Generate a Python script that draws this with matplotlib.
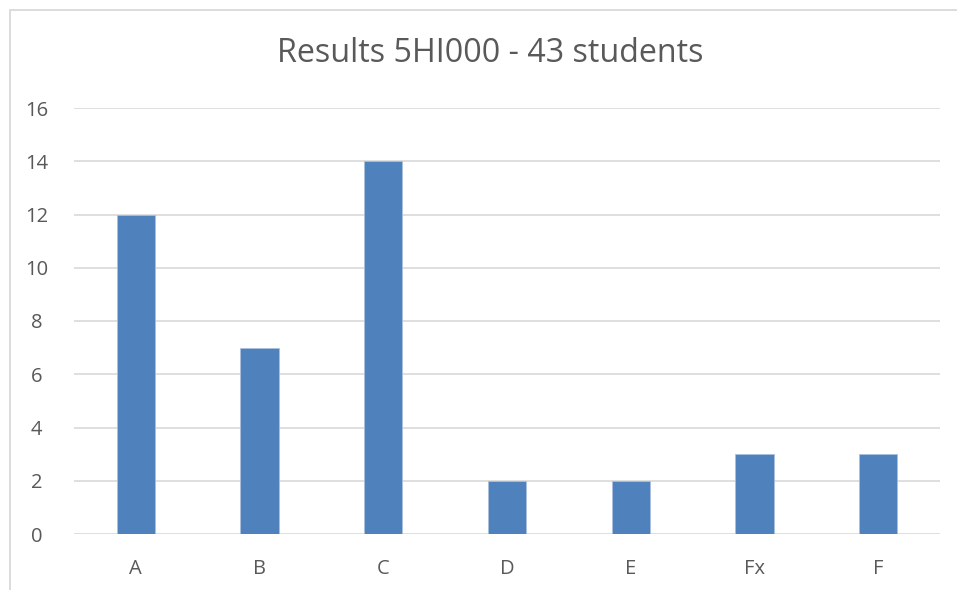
import matplotlib
matplotlib.use("Agg")
import matplotlib.pyplot as plt
from matplotlib.patches import Rectangle

categories = ["A", "B", "C", "D", "E", "Fx", "F"]
counts = [12, 7, 14, 2, 2, 3, 3]
yticks = [0, 2, 4, 6, 8, 10, 12, 14, 16]
title = "Results 5HI000 - 43 students"

plt.rcParams['font.family'] = ['Open Sans', 'DejaVu Sans']
W, H = 957, 590
fig = plt.figure(figsize=(W/100, H/100), dpi=100)
fig.patch.set_facecolor("white")

# chart border (clipped at right/bottom)
fig.patches.append(Rectangle((10/W, -0.05), 1.2, 1 - 10/H + 0.05, transform=fig.transFigure,
                             fill=False, edgecolor="#d9d9d9", linewidth=1.3, zorder=0))

ax = fig.add_axes([74/W, 1 - 534/H, (940-74)/W, (534-108)/H])
x = range(len(categories))
ax.bar(x, counts, width=0.31, color="#4f81bd", edgecolor="#a9c0de", linewidth=0.6, zorder=3)
ax.set_xlim(-0.5, len(categories) - 0.5)
ax.set_ylim(0, 16)
ax.set_yticks(yticks)
ax.set_xticks(list(x))
ax.set_xticklabels(categories)
ax.grid(axis="y", color="#d9d9d9", linewidth=1.2, zorder=0)
for s in ax.spines.values():
    s.set_visible(False)
ax.tick_params(axis="both", length=0, colors="#595959", labelsize=14.5)
ax.tick_params(axis="y", pad=27)
ax.tick_params(axis="x", pad=18)
for lab in ax.get_yticklabels():
    lab.set_horizontalalignment("center")
ax.set_facecolor("none")

fig.text(490/W, 1 - 54/H, title, ha="center", va="center", fontsize=23.2, color="#595959")

fig.savefig("out.png", dpi=100)
